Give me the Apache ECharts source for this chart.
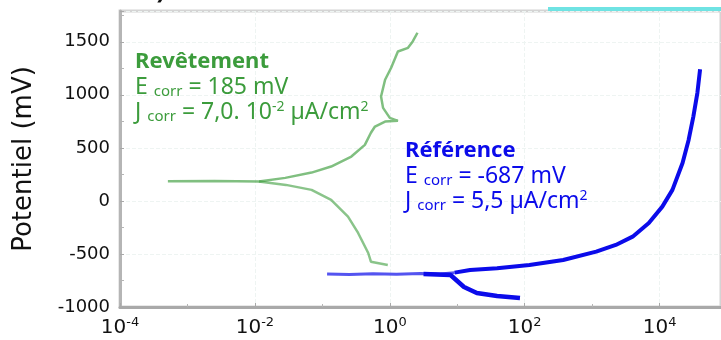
<!DOCTYPE html>
<html>
<head>
<meta charset="utf-8">
<script src="https://cdn.jsdelivr.net/npm/echarts@6/dist/echarts.min.js"></script>
<style>
  html, body { margin: 0; padding: 0; background: #ffffff; }
  #chart { width: 721px; height: 340px; }
</style>
</head>
<body>
<div id="chart"></div>
<script>
// courbes de Tafel, x = log10(J), y = potentiel (mV)
const xTicks = [-4, -2, 0, 2, 4]
const yTicks = [-1000, -500, 0, 500, 1000, 1500]

// Revêtement
const revAnodicLogJ = [-3.29, -2.6, -1.94, -1.55, -1.16, -0.87, -0.57, -0.37, -0.28, -0.22, -0.07, 0.12, 0.0, -0.10, -0.13, -0.07, 0.02, 0.12, 0.27, 0.34, 0.41]
const revAnodicE = [185, 187, 182, 217, 267, 324, 418, 528, 642, 701, 748, 755, 783, 877, 984, 1142, 1255, 1408, 1443, 1503, 1585]
const revCathodicLogJ = [-1.94, -1.54, -1.16, -0.87, -0.62, -0.47, -0.32, -0.28, -0.03]
const revCathodicE = [182, 151, 104, 9, -148, -302, -491, -573, -604]

// Référence
const refFlatLogJ = [-0.93, -0.6, -0.25, 0.1, 0.45, 0.75, 0.96]
const refFlatE = [-689, -694, -686, -692, -684, -690, -676]
const refAnodicLogJ = [0.96, 1.19, 1.59, 2.07, 2.57, 3.06, 3.35, 3.60, 3.84, 4.04, 4.19, 4.34, 4.43, 4.50, 4.56, 4.60]
const refAnodicE = [-676, -651, -635, -604, -557, -478, -415, -337, -208, -54, 104, 358, 575, 795, 1019, 1240]
const refCathodicLogJ = [0.5, 0.9, 1.1, 1.29, 1.59, 1.93]
const refCathodicE = [-690, -698, -811, -868, -896, -915]

function pairs (xs, ys) {
  return xs.map(function (x, i) { return [x, ys[i]] })
}

const green = '#3c9c3c'
const blue = '#0b0bea'

function noteRich (color) {
  return {
    b: { fontFamily: 'Noto Sans', fontWeight: 'bold', fontSize: 22, fill: color, lineHeight: 25 },
    n: { fontFamily: 'Noto Sans', fontSize: 23, fill: color, lineHeight: 25 },
    sub: { fontFamily: 'Noto Sans', fontSize: 15, fill: color, padding: [10, 0, 0, 0] },
    sup: { fontFamily: 'Noto Sans', fontSize: 14, fill: color, padding: [0, 0, 10, 0] }
  }
}

let myChart = echarts.init(document.getElementById('chart'))
let option = {
  animation: false,
  grid: {
    left: 120,
    top: 11,
    right: -5,
    bottom: 33,
    show: true,
    borderColor: '#d4d4d4',
    borderWidth: 3
  },
  xAxis: {
    type: 'value',
    min: -4,
    max: 4.91,
    interval: 2,
    axisLine: { onZero: false, lineStyle: { color: '#a9a9a9', width: 3 } },
    axisTick: { inside: true, length: 4, lineStyle: { color: '#a9a9a9' } },
    minorTick: { show: true, splitNumber: 2, length: 3, lineStyle: { color: '#b5b5b5' } },
    splitLine: { show: true, lineStyle: { color: '#eef4f2', type: 'dashed', width: 1 } },
    axisLabel: {
      margin: 9,
      showMaxLabel: false,
      formatter: function (v) {
        return xTicks.indexOf(v) >= 0 ? '{b|10}{s|' + v + '}' : ''
      },
      rich: {
        b: { fontFamily: 'DejaVu Sans', fontSize: 20, color: '#111' },
        s: { fontFamily: 'DejaVu Sans', fontSize: 13, color: '#111', padding: [0, 0, 10, 0] }
      }
    }
  },
  yAxis: {
    type: 'value',
    min: -1000,
    max: 1790,
    interval: 500,
    name: 'Potentiel (mV)',
    nameLocation: 'middle',
    nameGap: 83,
    nameTextStyle: { fontFamily: 'DejaVu Sans', fontSize: 26, color: '#111' },
    axisLine: { onZero: false, lineStyle: { color: '#b5b5b5', width: 3 } },
    axisTick: { inside: true, length: 4, lineStyle: { color: '#a9a9a9' } },
    minorTick: { show: true, splitNumber: 2, length: 4, lineStyle: { color: '#b5b5b5' } },
    splitLine: { show: true, lineStyle: { color: '#eef4f2', type: 'dashed', width: 1 } },
    axisLabel: {
      margin: 10,
      showMaxLabel: false,
      fontFamily: 'DejaVu Sans',
      fontSize: 18,
      color: '#111',
      formatter: function (v) {
        return yTicks.indexOf(v) >= 0 ? String(v) : ''
      }
    }
  },
  series: [
    {
      name: 'Revêtement', type: 'line', showSymbol: false, data: pairs(revAnodicLogJ, revAnodicE),
      lineStyle: { color: green, width: 2.5, opacity: 0.65 }
    },
    {
      name: 'Revêtement', type: 'line', showSymbol: false, data: pairs(revCathodicLogJ, revCathodicE),
      lineStyle: { color: green, width: 2.5, opacity: 0.6 }
    },
    {
      name: 'Référence', type: 'line', showSymbol: false, data: pairs(refFlatLogJ, refFlatE),
      lineStyle: { color: blue, width: 3, opacity: 0.7 }
    },
    {
      name: 'Référence', type: 'line', showSymbol: false, data: pairs(refAnodicLogJ, refAnodicE),
      lineStyle: { color: blue, width: 4 }
    },
    {
      name: 'Référence', type: 'line', showSymbol: false, data: pairs(refCathodicLogJ, refCathodicE),
      lineStyle: { color: blue, width: 4.5 }
    }
  ],
  graphic: [
    {
      type: 'rect', left: 548, top: 7, z: 100, shape: { width: 180, height: 4 },
      style: { fill: '#6fe3e3' }
    },
    {
      type: 'text', left: 140, top: -22, z: 100,
      style: { text: 'b) Acier doux', font: 'bold 26px "Noto Sans"', fill: '#111' }
    },
    {
      type: 'text', left: 135, top: 51, z: 100,
      style: {
        text: '{b|Revêtement}\n{n|E }{sub|corr}{n| = 185 mV}\n{n|J }{sub|corr}{n| = 7,0. 10}{sup|-2}{n| µA/cm}{sup|2}',
        rich: noteRich(green)
      }
    },
    {
      type: 'text', left: 405, top: 140, z: 100,
      style: {
        text: '{b|Référence}\n{n|E }{sub|corr}{n| = -687 mV}\n{n|J }{sub|corr}{n| = 5,5 µA/cm}{sup|2}',
        rich: noteRich(blue)
      }
    }
  ]
}
myChart.setOption(option)
</script>
</body>
</html>
